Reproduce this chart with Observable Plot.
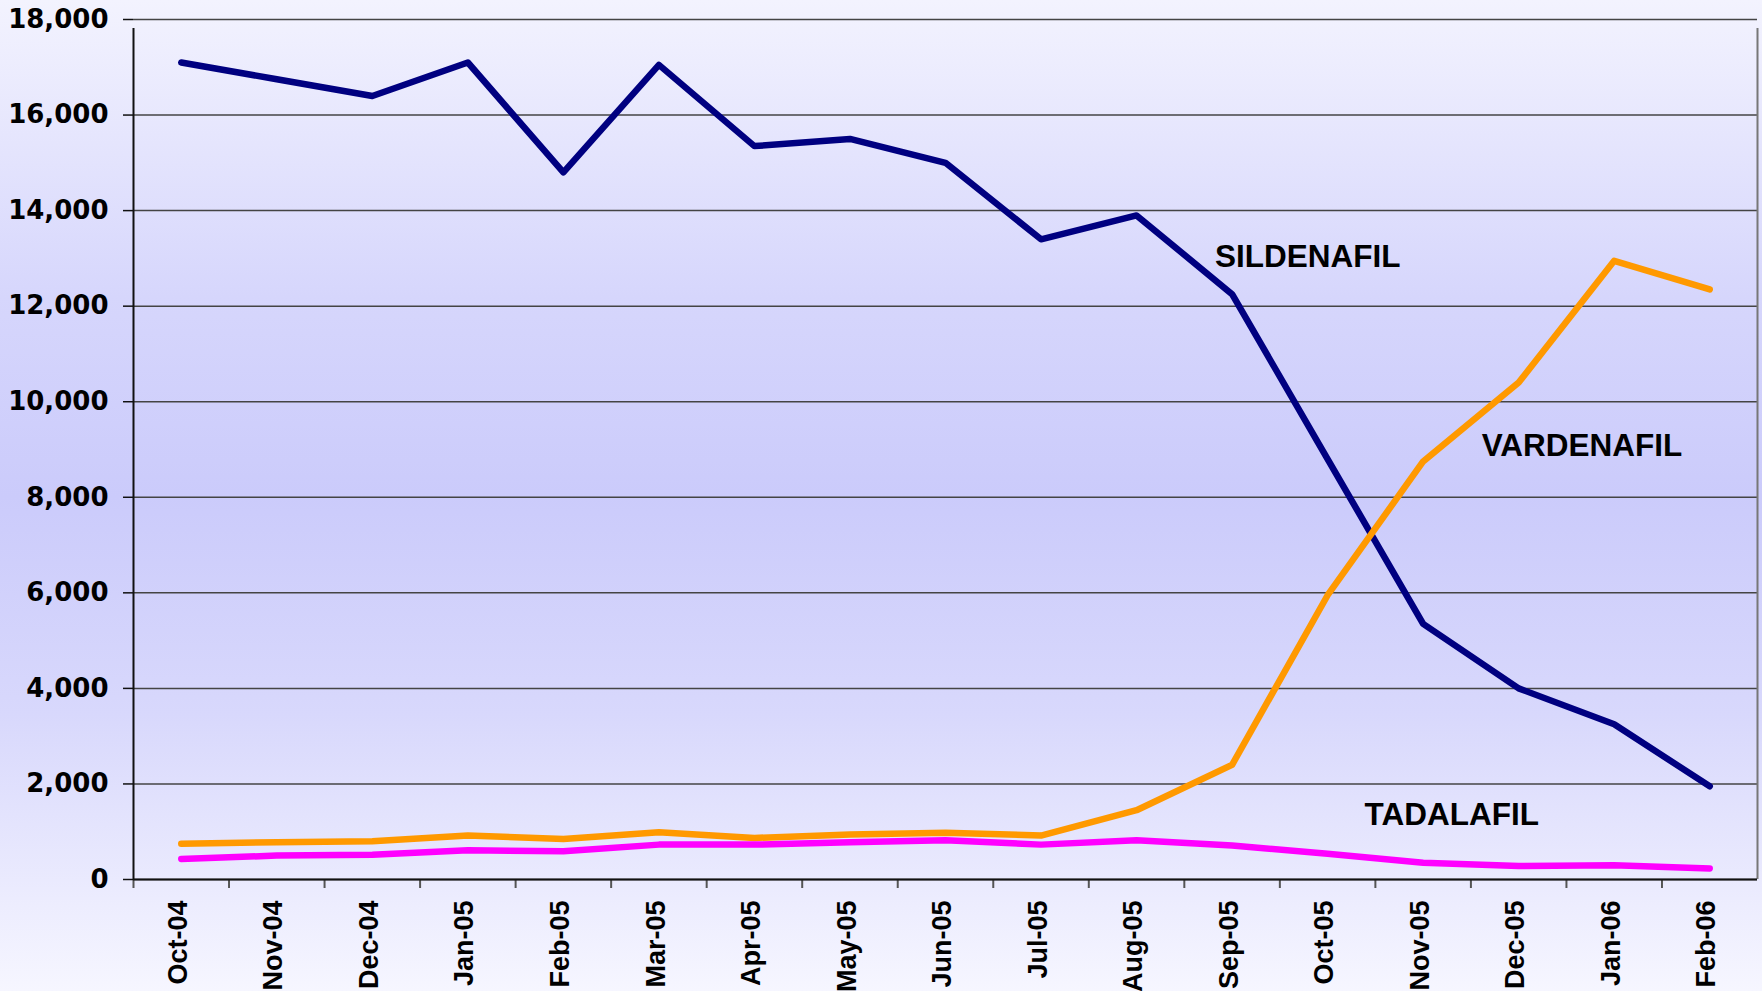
<!DOCTYPE html>
<html>
<head>
<meta charset="utf-8">
<script src="https://cdn.jsdelivr.net/npm/d3@7"></script>
<script src="https://cdn.jsdelivr.net/npm/@observablehq/plot@0.6"></script>
<style>
  html, body { margin: 0; padding: 0; }
  body {
    width: 1762px; height: 991px; overflow: hidden;
    background: linear-gradient(to bottom, #f3f3fe 0%, #d6d6fc 30%, #cbcbfb 50%, #d8d8fc 72%, #f6f6ff 100%);
  }
  #chart svg { display: block; }
</style>
</head>
<body>
<div id="chart"></div>
<script>
const months = ["Oct-04","Nov-04","Dec-04","Jan-05","Feb-05","Mar-05","Apr-05","May-05","Jun-05","Jul-05","Aug-05","Sep-05","Oct-05","Nov-05","Dec-05","Jan-06","Feb-06"];
const sildenafil = [17100,16750,16400,17100,14800,17050,15350,15500,15000,13400,13900,12250,8800,5350,4000,3250,1950];
const vardenafil = [750,780,800,920,850,990,870,940,980,920,1450,2400,5950,8750,10400,12950,12350];
const tadalafil  = [430,500,520,610,590,730,730,780,820,730,820,710,540,350,280,300,230];
const yTicks = [0,2000,4000,6000,8000,10000,12000,14000,16000,18000];

const seriesNames = ["SILDENAFIL","VARDENAFIL","TADALAFIL"];
const seriesColors = ["#000080","#ff9900","#ff00ff"];
const labelMonths = ["Sep-05","Dec-05","Oct-05"];
const labelValues = [13040,9080,1350];
const labelDx = [-17,-37,37];

const rows = [];
[sildenafil, vardenafil, tadalafil].forEach((arr, s) => {
  arr.forEach((v, i) => rows.push({month: months[i], value: v, series: seriesNames[s]}));
});
const labels = seriesNames.map((n, i) => ({name: n, month: labelMonths[i], value: labelValues[i], dx: labelDx[i]}));

const W = 1762, H = 991, mL = 133, mR = 5, mT = 19, mB = 112;
const bw = (W - mL - mR) / months.length;

const chart = Plot.plot({
  width: W, height: H,
  marginLeft: mL, marginRight: mR, marginTop: mT, marginBottom: mB,
  style: {background: "transparent", fontFamily: "Liberation Sans, Arial, sans-serif"},
  x: {type: "point", domain: months, padding: 0.5, round: false, label: null},
  y: {domain: [0, 18000], label: null},
  color: {domain: seriesNames, range: seriesColors},
  marks: [
    Plot.gridY(yTicks, {stroke: "#444", strokeOpacity: 1, strokeWidth: 1.5}),
    // right border
    Plot.ruleX(["Feb-06"], {x: d => d, y1: 0, y2: 18000, dx: bw/2, insetBottom: -9, stroke: "#777", strokeWidth: 2}),
    // bottom tick marks at category boundaries
    Plot.ruleX(months, {x: d => d, y1: 0, y2: 0, dx: -bw/2, insetBottom: -9, stroke: "#555", strokeWidth: 2}),
    // left axis line
    Plot.ruleX(["Oct-04"], {x: d => d, y1: 0, y2: 18000, dx: -bw/2, insetBottom: -9, stroke: "#111", strokeWidth: 2}),
    Plot.ruleY([0], {stroke: "#111", strokeWidth: 2}),
    Plot.axisY(yTicks, {
      tickSize: 10, tickPadding: 15, tickFormat: d3.format(","),
      fontFamily: "DejaVu Sans, sans-serif", fontWeight: "bold", fontSize: 26,
      stroke: "#111", strokeWidth: 1.5, color: "#000", label: null
    }),
    Plot.axisX(months, {
      tickSize: 0, tickPadding: 21, tickRotate: -90, dx: -3,
      fontFamily: "Liberation Sans, Arial, sans-serif", fontWeight: "bold", fontSize: 27,
      color: "#000", label: null
    }),
    Plot.line(rows, {x: "month", y: "value", z: "series", stroke: "series", strokeWidth: 6.5, strokeLinecap: "round", strokeLinejoin: "round"}),
    Plot.text(labels, {x: "month", y: "value", text: "name", textAnchor: "start",
      fontFamily: "Liberation Sans, Arial, sans-serif", fontWeight: "bold", fontSize: 31.5, fill: "#000"})
  ]
});
document.getElementById("chart").appendChild(chart);

// apply per-label horizontal offsets
const textEls = chart.querySelectorAll("g[aria-label='text'] text");
textEls.forEach((t, i) => {
  const cur = t.getAttribute("transform") || "";
  t.setAttribute("transform", cur + ` translate(${labels[i].dx},0)`);
});
</script>
</body>
</html>
